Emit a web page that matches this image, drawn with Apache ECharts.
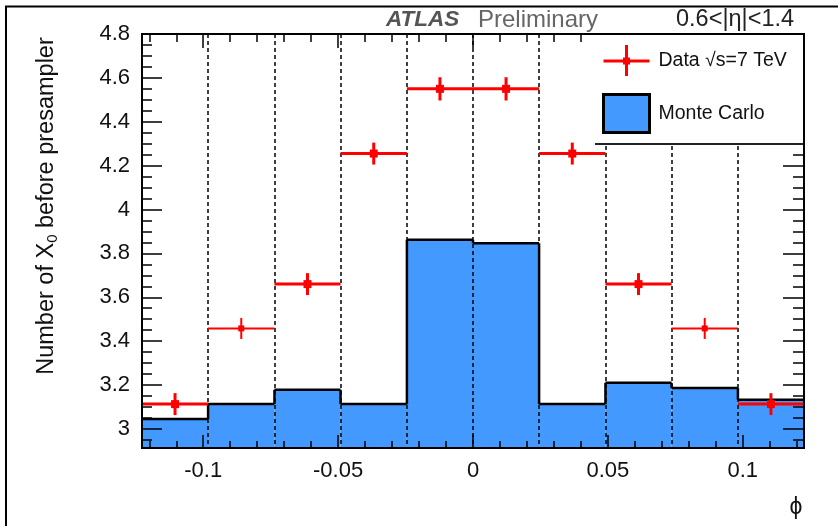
<!DOCTYPE html>
<html>
<head>
<meta charset="utf-8">
<script src="https://cdn.jsdelivr.net/npm/echarts@6/dist/echarts.min.js"></script>
<style>
  html, body { margin: 0; padding: 0; background: #fff; }
  #chart { width: 838px; height: 526px; }
</style>
</head>
<body>
<div id="chart"></div>
<script>
// bin edges in phi (2pi/256 wide bins)
var edges = [-0.1227, -0.0982, -0.0736, -0.0491, -0.0245, 0, 0.0245, 0.0491, 0.0736, 0.0982, 0.1227];
// data points and their errors
var dataVals = [3.113, 3.458, 3.66, 4.255, 4.55, 4.55, 4.255, 3.66, 3.458, 3.113];
var dataErr  = [0.05, 0.048, 0.05, 0.05, 0.053, 0.053, 0.05, 0.05, 0.048, 0.05];
// monte carlo histogram
var mcVals   = [3.045, 3.113, 3.178, 3.113, 3.862, 3.846, 3.113, 3.21, 3.186, 3.133];
// y range
var yMin = 2.913, yMax = 4.8;

var FONT = '"Liberation Sans", Arial, sans-serif';
var thinBins = [1, 8];
var binWidth = (edges[edges.length - 1] - edges[0]) / (edges.length - 1);
var xLo = edges[0], xHi = edges[edges.length - 1];

var chart = echarts.init(document.getElementById('chart'));

function frame() {
  return { show: true, onZero: false, lineStyle: { color: '#000', width: 2 } };
}
function ticks(len) {
  return { show: true, inside: true, length: len, lineStyle: { color: '#000', width: 1.5 } };
}
function minor(n, len) {
  return { show: true, splitNumber: n, length: len, lineStyle: { color: '#000', width: 1.5 } };
}
function labelStyle(plain, extra) {
  if (plain) return extra;
  return Object.assign({ margin: 12, fontSize: 22, fontFamily: FONT, color: '#111' }, extra);
}

function mcSeries() {
  return {
    name: 'Monte Carlo',
    type: 'custom',
    xAxisIndex: 0, yAxisIndex: 0,
    z: 1,
    encode: { x: [0, 1], y: 2 },
    data: mcVals.map(function (v, i) {
      return [edges[i], edges[i + 1], v, i > 0 ? mcVals[i - 1] : v];
    }),
    renderItem: function (params, api) {
      var lo = api.value(0), hi = api.value(1), v = api.value(2), pv = api.value(3);
      var a = api.coord([lo, v]);
      var b = api.coord([hi, v]);
      var p = api.coord([lo, pv]);
      var bottom = params.coordSys.y + params.coordSys.height;
      return {
        type: 'group',
        children: [
          { type: 'rect', shape: { x: a[0], y: a[1], width: b[0] - a[0], height: bottom - a[1] }, style: { fill: '#4499ff' } },
          { type: 'line', shape: { x1: a[0], y1: a[1], x2: b[0], y2: b[1] }, style: { stroke: '#000', lineWidth: 2.5 } },
          { type: 'line', shape: { x1: a[0], y1: p[1], x2: a[0], y2: a[1] }, style: { stroke: '#000', lineWidth: 2.5 } }
        ]
      };
    }
  };
}

function dataSeries() {
  return {
    name: 'Data \u221As=7 TeV',
    type: 'custom',
    xAxisIndex: 0, yAxisIndex: 0,
    z: 3,
    encode: { x: [0, 3, 4], y: 1 },
    data: dataVals.map(function (v, i) {
      return [(edges[i] + edges[i + 1]) / 2, v, dataErr[i], edges[i], edges[i + 1]];
    }),
    renderItem: function (params, api) {
      var c = api.value(0), v = api.value(1), e = api.value(2), lo = api.value(3), hi = api.value(4);
      var pL = api.coord([lo, v]), pR = api.coord([hi, v]);
      var pT = api.coord([c, v + e]), pB = api.coord([c, v - e]);
      var pC = api.coord([c, v]);
      var thin = thinBins.indexOf(params.dataIndex) >= 0;
      var w = thin ? 2 : 3, s = thin ? 6 : 8;
      return {
        type: 'group',
        children: [
          { type: 'line', shape: { x1: pL[0], y1: pL[1], x2: pR[0], y2: pR[1] }, style: { stroke: '#f00', lineWidth: w } },
          { type: 'line', shape: { x1: pT[0], y1: pT[1], x2: pB[0], y2: pB[1] }, style: { stroke: '#f00', lineWidth: w } },
          { type: 'rect', shape: { x: pC[0] - s / 2, y: pC[1] - s / 2, width: s, height: s }, style: { fill: '#f00' } }
        ]
      };
    }
  };
}

function buildOption(v) {
  var xAxes = [
    {
      type: 'value', position: 'bottom', z: 2,
      min: xLo, max: xHi, splitNumber: 5,
      splitLine: { show: false },
      axisLine: frame(),
      axisTick: ticks(13),
      minorTick: minor(5, 7),
      axisLabel: labelStyle(v.plainLabels, { showMinLabel: false, showMaxLabel: false })
    },
    // bin edges, dotted
    {
      type: 'value', position: 'bottom', z: 2,
      min: xLo, max: xHi, interval: binWidth,
      axisLine: { show: false, onZero: false },
      axisTick: { show: false },
      axisLabel: { show: false },
      splitLine: { show: true, lineStyle: { color: '#000', width: 1.5, type: [4, 3] } }
    }
  ];
  var yAxes = [
    {
      type: 'value', position: 'left', z: 2,
      min: yMin, max: yMax, splitNumber: 9,
      splitLine: { show: false },
      axisLine: frame(),
      axisTick: ticks(20),
      minorTick: minor(4, 10),
      axisLabel: labelStyle(v.plainLabels, { showMinLabel: false })
    }
  ];
  if (!v.noTopRight) {
    xAxes.push({
      type: 'value', position: 'top', z: 2,
      min: xLo, max: xHi, splitNumber: 5,
      splitLine: { show: false },
      axisLine: frame(),
      axisTick: ticks(14),
      minorTick: minor(5, 8),
      axisLabel: { show: false }
    });
    yAxes.push({
      type: 'value', position: 'right', z: 2,
      min: yMin, max: yMax, splitNumber: 9,
      splitLine: { show: false },
      axisLine: frame(),
      axisTick: ticks(21),
      minorTick: minor(4, 11),
      axisLabel: { show: false }
    });
  }

  var graphic = [
    { type: 'rect', shape: { x: 6, y: 6.5, width: 900, height: 600 }, style: { fill: 'none', stroke: '#000', lineWidth: 2 }, silent: true }
  ];
  if (!v.noTexts) {
    graphic.push(
      { type: 'text', x: 386, y: 20, style: { text: 'ATLAS', fontSize: 22.5, fontWeight: 'bold', fontStyle: 'italic', fontFamily: FONT, fill: '#555', align: 'left', verticalAlign: 'middle' } },
      { type: 'text', x: 478, y: 20, style: { text: 'Preliminary', fontSize: 24, fontFamily: FONT, fill: '#666', align: 'left', verticalAlign: 'middle' } },
      { type: 'text', x: 676, y: 20, style: { text: '0.6<|\u03B7|<1.4', fontSize: 23.5, fontFamily: FONT, fill: '#222', align: 'left', verticalAlign: 'middle' } },
      { type: 'text', x: 796, y: 508, style: { text: '\u03D5', fontSize: 23, fontFamily: FONT, fill: '#111', align: 'center', verticalAlign: 'middle' } },
      {
        type: 'text', x: 47, y: 206, rotation: Math.PI / 2,
        style: {
          text: 'Number of X{sub|0} before presampler',
          fontSize: 23.5, fontFamily: FONT, fill: '#111', align: 'center', verticalAlign: 'middle',
          rich: { sub: { fontSize: 15, fontFamily: FONT, fill: '#111', verticalAlign: 'bottom', padding: [11, 0, 0, 0] } }
        }
      }
    );
  }

  var opt = {
    backgroundColor: '#fff',
    animation: false,
    grid: {
      left: 142, top: 34, width: 662, height: 414,
      show: true, borderColor: '#000', borderWidth: 2,
      backgroundColor: 'transparent', z: 10
    },
    xAxis: xAxes,
    yAxis: yAxes,
    graphic: graphic,
    series: v.noSeries ? [] : [mcSeries(), dataSeries()]
  };
  if (!v.noLegend) {
    opt.legend = {
      orient: 'vertical',
      left: 595, top: 34,
      itemWidth: 46, itemHeight: 38, itemGap: 13,
      padding: [8, 18, 9, 7],
      backgroundColor: '#fff',
      borderWidth: 0,
      shadowColor: '#222', shadowOffsetY: 2, shadowBlur: 0,
      selectedMode: false,
      z: 4,
      textStyle: { fontSize: 19.5, fontFamily: FONT, color: '#111', width: 140, padding: [0, 0, 0, 4] },
      data: [
        {
          name: 'Data \u221As=7 TeV',
          icon: 'path://M0 0h0.01v0.01h-0.01zM45.99 37.99h0.01v0.01h-0.01zM0 17.5h46v3h-46zM21.5 3h3v31h-3zM19.5 15.5h7v7h-7z',
          itemStyle: { color: '#f00', borderWidth: 0 }
        },
        {
          name: 'Monte Carlo',
          icon: 'rect',
          itemStyle: { color: '#4499ff', borderColor: '#000', borderWidth: 3 }
        }
      ]
    };
  }
  return opt;
}

// is the major tick at y = 4.6 on the left axis painted?
function ticksPainted() {
  try {
    chart.getZr().flush();
    var cv = chart.getDom().getElementsByTagName('canvas')[0];
    var d = cv.getContext('2d').getImageData(145, 70, 14, 16).data;
    for (var i = 0; i < d.length; i += 4) {
      if (d[i] < 110 && d[i + 1] < 110 && d[i + 2] < 110) return true;
    }
  } catch (e) {}
  return false;
}

var variants = [
  {},
  { noTopRight: true },
  { noLegend: true },
  { noTexts: true },
  { plainLabels: true },
  { noSeries: true }
];
var chosen = null;
for (var k = 0; k < variants.length; k++) {
  chart.setOption(buildOption(variants[k]), true);
  if (ticksPainted()) { chosen = k; break; }
}
if (chosen === null) chart.setOption(buildOption(variants[0]), true);
</script>
</body>
</html>
